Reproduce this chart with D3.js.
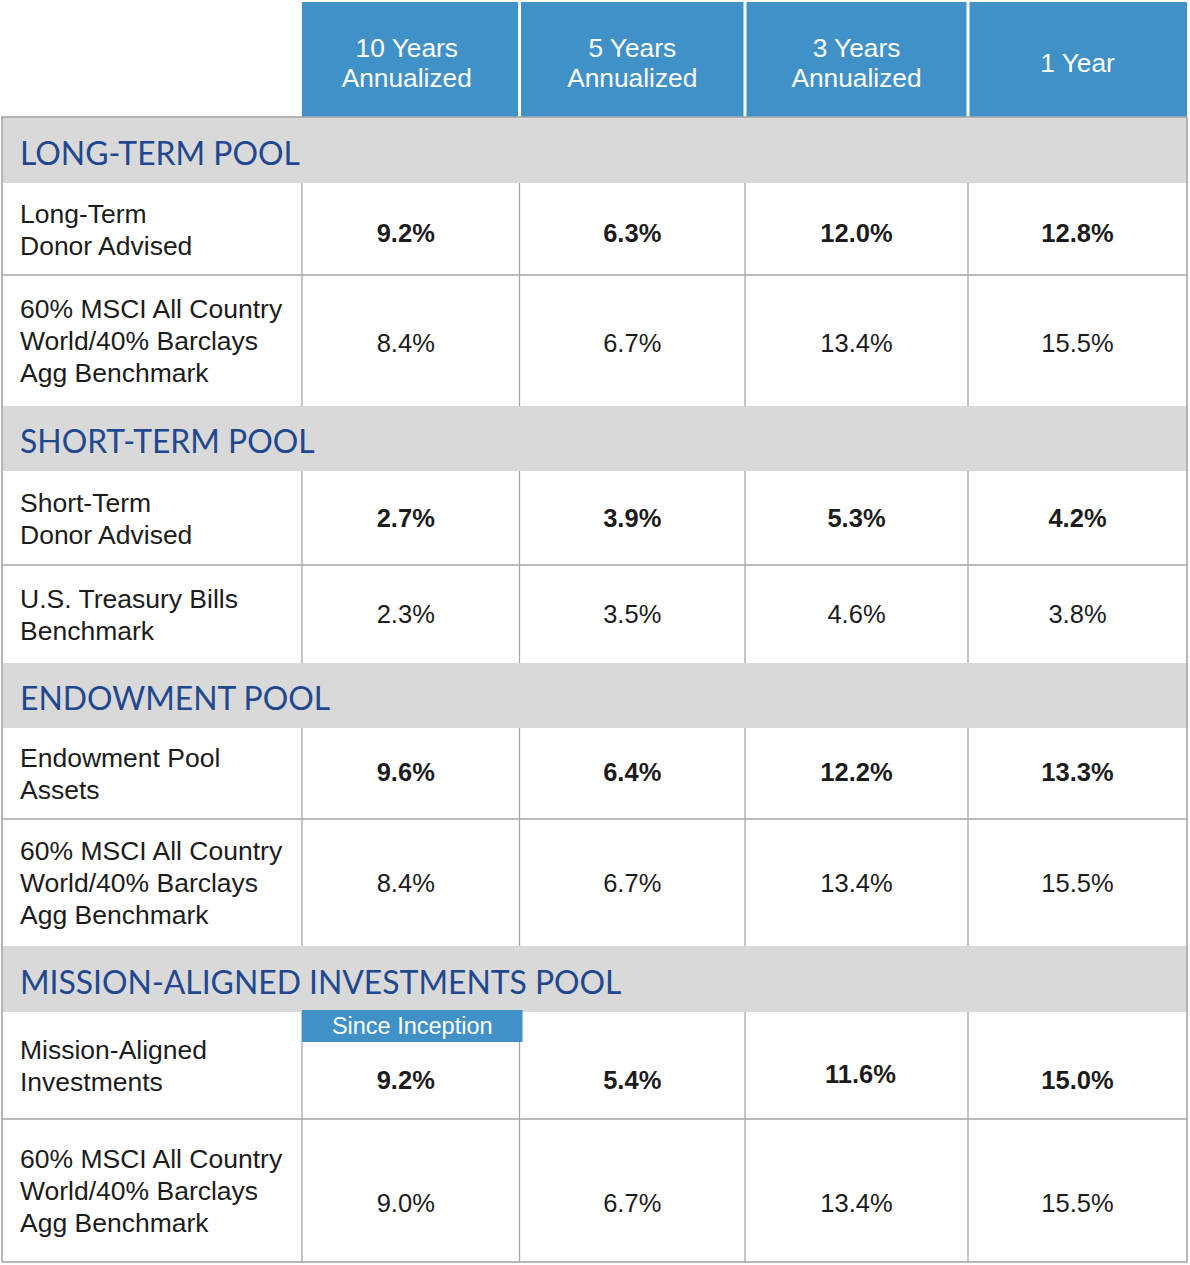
<!DOCTYPE html>
<html>
<head>
<meta charset="utf-8">
<script src="https://cdn.jsdelivr.net/npm/d3@7"></script>
<style>
  html, body { margin: 0; padding: 0; background: #ffffff; }
  svg { display: block; }
</style>
</head>
<body>
<div id="chart"></div>
<script>
// ---------------- DATA ----------------
const columns = ["10 Years Annualized", "5 Years Annualized", "3 Years Annualized", "1 Year"];
const columnLines = [["10 Years", "Annualized"], ["5 Years", "Annualized"], ["3 Years", "Annualized"], ["1 Year"]];
const sections = ["LONG-TERM POOL", "SHORT-TERM POOL", "ENDOWMENT POOL", "MISSION-ALIGNED INVESTMENTS POOL"];
const rowSection = [0, 0, 1, 1, 2, 2, 3, 3];
const rowLabels = [
  ["Long-Term", "Donor Advised"],
  ["60% MSCI All Country", "World/40% Barclays", "Agg Benchmark"],
  ["Short-Term", "Donor Advised"],
  ["U.S. Treasury Bills", "Benchmark"],
  ["Endowment Pool", "Assets"],
  ["60% MSCI All Country", "World/40% Barclays", "Agg Benchmark"],
  ["Mission-Aligned", "Investments"],
  ["60% MSCI All Country", "World/40% Barclays", "Agg Benchmark"]
];
const tenYear   = [9.2, 8.4, 2.7, 2.3, 9.6, 8.4, 9.2, 9.0];
const fiveYear  = [6.3, 6.7, 3.9, 3.5, 6.4, 6.7, 5.4, 6.7];
const threeYear = [12.0, 13.4, 5.3, 4.6, 12.2, 13.4, 11.6, 13.4];
const oneYear   = [12.8, 15.5, 4.2, 3.8, 13.3, 15.5, 15.0, 15.5];
const isFund    = [true, false, true, false, true, false, true, false];
const inceptionNote = "Since Inception"; // applies to 10-year column of Mission-Aligned Investments
const inceptionRow = 6;

// ---------------- LAYOUT ----------------
const W = 1190, H = 1265;
const colEdges = [302, 519.5, 745, 968, 1187];  // column boundaries for value columns
const tableLeft = 2, tableRight = 1187;
const headerTop = 2, headerBottom = 117;
const rowHeights = [92, 131, 94, 98, 91, 127, 107, 143];
const sectionHeights = [66, 65, 65, 66];
const valueOffsets = [4, 2, 0, 0, -2, 0, 14.5, 12.5];
const lineGap = 32;

const blue = "#4191c9", grayFill = "#d9d9d9", border = "#a6a6a6";
const sectionColor = "#21488f", textColor = "#1c1c1c";
const bodyFont = "'Liberation Sans', Arial, sans-serif";
const sectionFont = "Lato, 'Noto Sans', sans-serif";

// build vertical layout (sections + rows)
const blocks = [];
let yCursor = headerBottom;
sections.forEach((s, si) => {
  blocks.push({type: "section", index: si, y0: yCursor, y1: yCursor + sectionHeights[si]});
  yCursor += sectionHeights[si];
  rowSection.forEach((rs, ri) => {
    if (rs === si) {
      blocks.push({type: "row", index: ri, y0: yCursor, y1: yCursor + rowHeights[ri]});
      yCursor += rowHeights[ri];
    }
  });
});
const tableBottom = yCursor;

const colLeft = d3.scaleOrdinal().domain(columns).range(colEdges.slice(0, 4));
const colRight = d3.scaleOrdinal().domain(columns).range(colEdges.slice(1));
const colCenter = c => (colLeft(c) + colRight(c)) / 2;
const seriesByCol = {};
seriesByCol[columns[0]] = tenYear;
seriesByCol[columns[1]] = fiveYear;
seriesByCol[columns[2]] = threeYear;
seriesByCol[columns[3]] = oneYear;
const fmt = d3.format(".1f");

const svg = d3.select("#chart").append("svg").attr("width", W).attr("height", H);

// ---------- header ----------
const hdr = svg.append("g");
columns.forEach((c, i) => {
  const x0 = colLeft(c) + (i > 0 ? 1.5 : 0);
  const x1 = colRight(c) - (i < columns.length - 1 ? 1.5 : 0);
  hdr.append("rect").attr("x", x0).attr("y", headerTop).attr("width", x1 - x0).attr("height", headerBottom - headerTop).attr("fill", blue);
  const lines = columnLines[i];
  const cy = (headerTop + headerBottom) / 2 + 3;
  const t = hdr.append("text").attr("text-anchor", "middle")
    .attr("font-family", bodyFont).attr("font-size", 26.3).attr("fill", "#ffffff");
  lines.forEach((ln, li) => {
    t.append("tspan").attr("x", colCenter(c) - (i === 0 ? 4 : 0))
      .attr("y", cy + (li - (lines.length - 1) / 2) * 30.5)
      .attr("dy", "0.36em").text(ln);
  });
});

// ---------- body blocks ----------
const body = svg.append("g");
blocks.forEach(b => {
  if (b.type === "section") {
    body.append("rect").attr("x", tableLeft).attr("y", b.y0).attr("width", tableRight - tableLeft).attr("height", b.y1 - b.y0).attr("fill", grayFill);
    body.append("text").attr("class", "sec").attr("x", 20).attr("y", (b.y0 + b.y1) / 2 + 3.5).attr("dy", "0.36em")
      .attr("font-family", sectionFont).attr("font-size", 32).attr("fill", sectionColor).text(sections[b.index]);
  } else {
    const ri = b.index;
    const cy = (b.y0 + b.y1) / 2;
    // vertical dividers
    colEdges.slice(0, 4).forEach(x => {
      body.append("line").attr("x1", x).attr("x2", x).attr("y1", b.y0).attr("y2", b.y1).attr("stroke", border).attr("stroke-width", 1.3);
    });
    // label
    const lab = rowLabels[ri];
    const t = body.append("text").attr("font-family", bodyFont).attr("font-size", 26.5).attr("fill", textColor);
    lab.forEach((ln, li) => {
      t.append("tspan").attr("x", 20).attr("y", cy + (li - (lab.length - 1) / 2) * lineGap).attr("dy", "0.36em").text(ln);
    });
    // values
    columns.forEach((c, ci) => {
      let off = valueOffsets[ri];
      if (ri === inceptionRow && ci === 2) off -= 6;
      const xc = colCenter(c) + (ci === 0 ? -5 : 0) + (ri === inceptionRow && ci === 2 ? 4 : 0);
      body.append("text").attr("x", xc).attr("y", cy + off).attr("dy", "0.36em")
        .attr("text-anchor", "middle").attr("font-family", bodyFont).attr("font-size", 25.5)
        .attr("font-weight", isFund[ri] ? "bold" : "normal").attr("fill", textColor)
        .text(fmt(seriesByCol[c][ri]) + "%");
    });
    // inception badge
    if (ri === inceptionRow) {
      const c = columns[0];
      const bx0 = colLeft(c), bx1 = colRight(c) + 3;
      body.append("rect").attr("x", bx0).attr("y", b.y0 - 2).attr("width", bx1 - bx0).attr("height", 32).attr("fill", blue);
      body.append("text").attr("x", (bx0 + bx1) / 2).attr("y", b.y0 + 14).attr("dy", "0.36em")
        .attr("text-anchor", "middle").attr("font-family", bodyFont).attr("font-size", 23.5).attr("fill", "#ffffff").text(inceptionNote);
    }
  }
});

// horizontal lines between consecutive data rows
blocks.forEach((b, i) => {
  const next = blocks[i + 1];
  if (b.type === "row" && next && next.type === "row") {
    body.append("line").attr("x1", tableLeft).attr("x2", tableRight).attr("y1", b.y1).attr("y2", b.y1).attr("stroke", border).attr("stroke-width", 1.5);
  }
});

// outer border
body.append("rect").attr("x", tableLeft).attr("y", headerBottom).attr("width", tableRight - tableLeft).attr("height", tableBottom - headerBottom)
  .attr("fill", "none").attr("stroke", border).attr("stroke-width", 1.6);

// fit section titles to reference width
const targetFirst = 280;
const secNodes = body.selectAll("text.sec");
const firstLen = secNodes.nodes()[0].getComputedTextLength();
const scaleF = targetFirst / firstLen;
secNodes.attr("font-size", 32 * scaleF);
</script>
</body>
</html>
